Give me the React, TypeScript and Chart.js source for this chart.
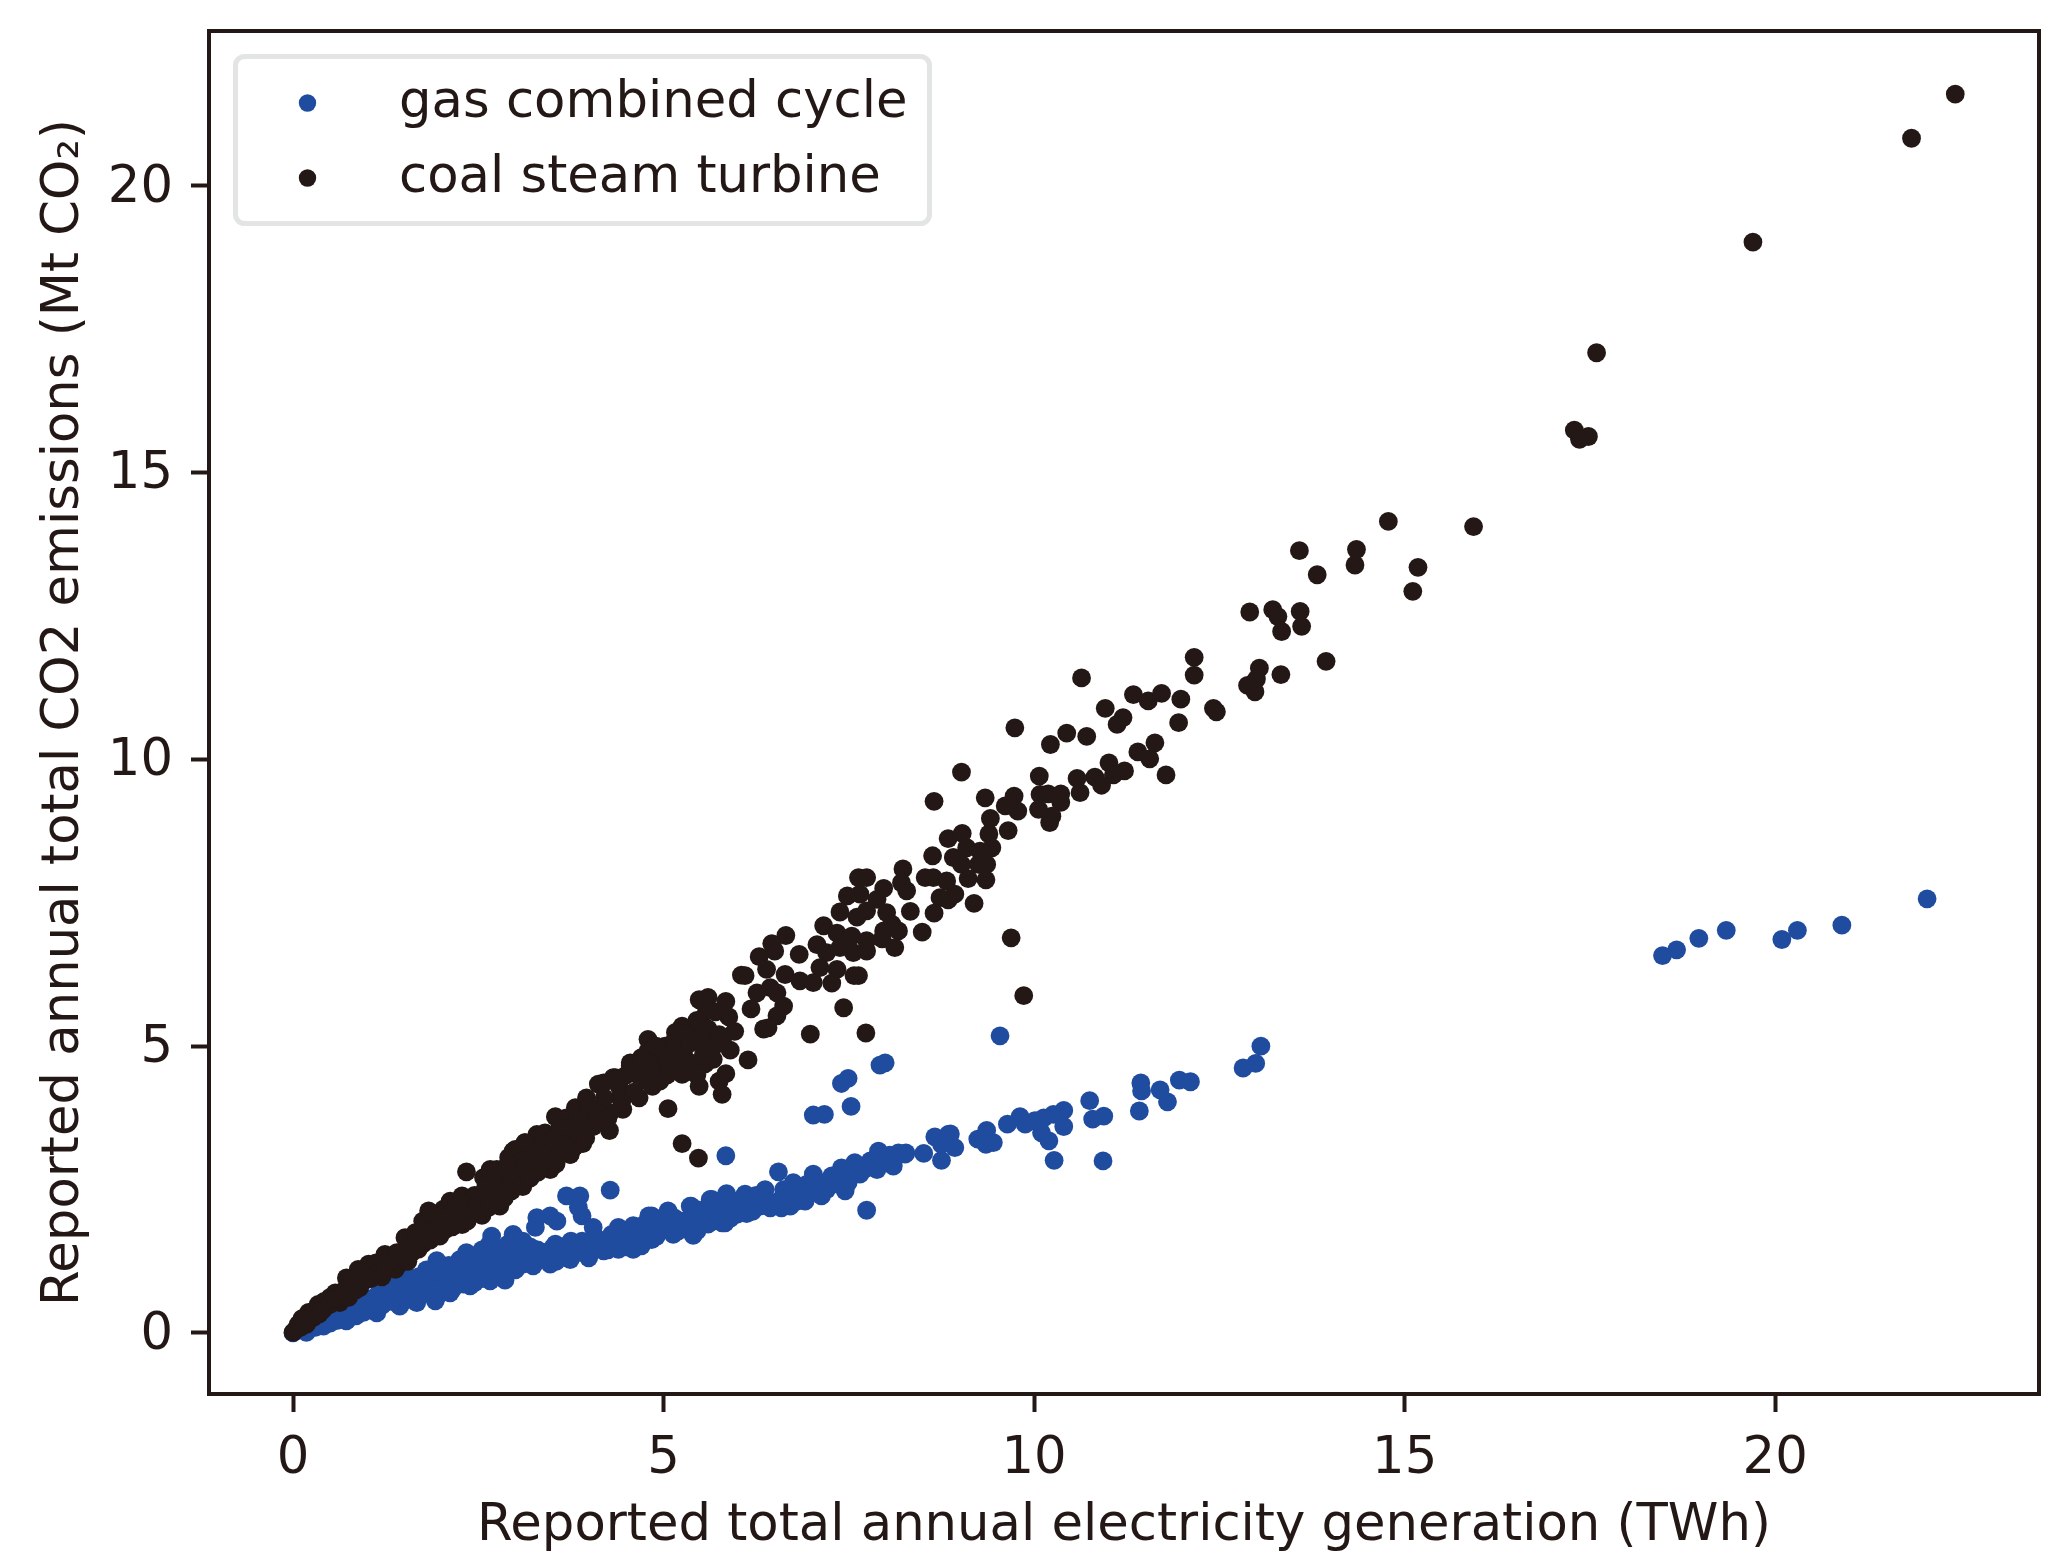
import React, { useEffect, useRef } from "react";
import { Chart, registerables } from "chart.js";

Chart.register(...registerables);

// [TWh, Mt CO2]
const coalPlants: [number, number][] = [
  [22.43,21.6],[21.84,20.83],[19.7,19.02],[17.59,17.09],[17.29,15.74],[17.36,15.58],[17.48,15.63],
  [14.78,14.15],[15.93,14.06],[13.58,13.64],[14.35,13.66],[14.33,13.39],[13.82,13.22],[15.18,13.35],[15.11,12.93],
  [12.91,12.57],[13.22,12.61],[13.29,12.49],[13.34,12.23],[13.59,12.58],[13.61,12.32],[13.94,11.71],[12.16,11.78],
  [12.16,11.47],[13.04,11.59],[13.33,11.48],[12.88,11.29],[13.0,11.4],[12.98,11.18],[10.64,11.42],[11.34,11.13],
  [11.54,11.02],[11.72,11.15],[11.98,11.05],[10.96,10.89],[11.2,10.73],[11.12,10.61],[11.95,10.64],[12.42,10.89],
  [12.46,10.83],[9.74,10.55],[10.44,10.46],[10.71,10.4],[10.22,10.26],[11.63,10.29],[11.4,10.13],[11.56,10.01],
  [11.01,9.94],[11.22,9.8],[11.07,9.73],[10.82,9.69],[10.91,9.55],[11.78,9.73],[10.07,9.71],[10.58,9.67],
  [10.62,9.42],[9.73,9.36],[9.78,9.1],[9.61,9.19],[10.08,9.39],[10.19,9.4],[10.36,9.4],[10.36,9.25],
  [10.06,9.13],[10.24,9.01],[10.21,8.9],[9.65,8.76],
  [9.02,9.78],[8.65,9.27],[9.34,9.33],[9.41,8.97],[9.39,8.7],[8.84,8.62],[9.03,8.71],[9.09,8.46],[9.43,8.46],
  [9.27,8.4],[8.63,8.32],[8.91,8.29],[9.36,8.17],[9.25,8.17],[8.23,8.09],[9.02,8.17],[9.35,7.9],[9.11,7.92],
  [8.21,7.85],[8.53,7.94],[8.64,7.94],[8.82,7.88],[8.28,7.71],[7.63,7.94],[7.74,7.94],[7.97,7.75],[7.48,7.62],
  [7.65,7.65],[7.88,7.56],[8.73,7.59],[8.84,7.55],[8.93,7.65],[9.19,7.49],[7.38,7.34],[7.74,7.36],[7.61,7.25],
  [8.01,7.33],[8.33,7.35],[8.65,7.32],[7.16,7.1],[8.08,7.13],[8.17,7.01],[7.97,7.01],[8.49,6.99],[6.65,6.93],
  [6.46,6.79],[7.34,6.97],[7.54,6.92],[7.07,6.77],[6.5,6.66],[8.12,6.72],[7.74,6.84],[7.56,6.63],[7.38,6.72],
  [7.2,6.63],[7.74,6.66],[7.95,6.87],[6.29,6.56],[6.83,6.6],[6.39,6.34],[7.34,6.34],[6.05,6.24],[6.1,6.23],
  [6.64,6.25],[6.84,6.14],[7.02,6.11],[7.27,6.1],[7.11,6.37],[7.57,6.23],[7.63,6.23],[7.43,5.67],[9.69,6.89],
  [9.86,5.88],[7.73,5.23],[6.98,5.21],[6.44,6.02],[6.26,5.93],[6.53,5.93],[6.62,5.7],[6.18,5.65],[6.53,5.53],
  [6.35,5.3],[6.41,5.32],[5.48,5.81],[5.6,5.85],[5.84,5.78],[5.58,5.62],[5.88,5.51],[5.54,5.35],[5.25,5.35],
  [5.16,5.24],[5.49,5.27],[5.96,5.26],[4.79,5.12],[5.02,5.0],[5.22,5.09],[5.65,5.09],[4.79,4.92],[5.9,4.93],
  [4.55,4.71],[5.27,4.86],[5.54,4.86],[5.67,4.77],[4.95,4.74],[4.68,4.63],[6.14,4.76],[5.56,4.69],[5.25,4.51],
  [5.84,4.52],[4.95,4.42],[4.35,4.45],[5.75,4.39],[5.48,4.3],[5.79,4.16],[4.67,4.1],[4.41,4.1],[4.19,4.36],
  [5.06,3.91],[4.27,3.53],[5.25,3.3],[5.47,3.05],[4.44,4.06],[4.28,3.84],[3.91,3.3],[3.54,3.77],[2.34,2.81],
  [3.81,3.93],[3.96,4.1],[4.12,4.34],[4.32,4.45],[4.55,4.66],[4.95,4.39],[4.64,4.51],[4.82,4.69],[5.0,4.92],
  [5.02,4.69],[4.01,3.81],[4.1,3.75],[3.92,3.58],[3.69,3.75],[3.6,3.58],[3.4,3.49],[3.29,3.46],[3.13,3.32],
  [3.0,3.2],[2.91,3.06],[3.74,3.11],[3.47,2.85],[3.33,3.17],[3.6,3.23],[3.42,3.06],[3.15,3.11],[3.02,2.88],
  [3.24,2.88],[2.66,2.85],[2.84,2.77],[2.57,2.71],
  [0.0,0.01],[0.07,0.15],[0.21,0.36],[0.34,0.5],[0.57,0.7],[0.72,0.96],[0.88,1.11],[1.02,1.2],[1.24,1.37],
  [1.51,1.66],[1.83,2.13],[2.03,2.16],[2.12,2.3],[2.28,2.39],[2.66,2.82],[2.97,3.17],[3.13,3.32],[3.38,3.46],
  [0.18,0.15],[0.27,0.27],[0.45,0.47],[0.63,0.53],[0.9,0.79],[1.38,1.11],[1.69,1.46],[1.98,1.69],[2.28,1.89],
  [2.79,2.21],[2.95,2.48],[3.33,2.85],[3.47,2.97],[3.74,3.12],[0.14,0.21],[0.5,0.62],[0.81,0.85],[1.08,1.08],
  [1.31,1.31],[1.53,1.43],[1.71,1.72],[1.94,1.89],[2.16,2.07],[2.39,2.3],[2.61,2.42],[2.7,2.65],[2.88,2.71],
  [3.06,3.0],[3.29,3.17],[3.56,3.35],[3.69,3.52],[3.56,3.12],[3.42,3.29],[3.24,3.0],
];

// the solid stretch of the coal band near the origin
const coalDenseBand: [number, number][] = [
  [0.03,0.05],[0.1,0.1],[0.12,0.25],[0.2,0.2],[0.25,0.3],[0.3,0.4],[0.35,0.33],[0.42,0.55],[0.4,0.4],[0.5,0.5],[0.55,0.6],
  [0.65,0.65],[0.7,0.75],[0.75,0.62],[0.8,0.95],[0.85,0.75],[0.95,1.05],[0.95,0.9],
  [1.05,0.95],[1.12,1.22],[1.15,1.05],[1.2,0.98],[1.25,1.18],[1.35,1.25],[1.4,1.4],[1.45,1.22],[1.5,1.35],[1.55,1.25],
  [1.6,1.55],[1.6,1.4],[1.65,1.75],[1.7,1.6],[1.75,1.95],[1.75,1.55],[1.8,1.75],[1.85,1.62],[1.9,2.05],[1.9,1.75],[1.95,1.7],
  [2.0,1.95],[2.05,1.8],[2.1,2.05],[2.15,1.85],[2.2,2.2],[2.25,2.0],[2.35,2.15],[2.35,1.95],[2.45,2.4],[2.45,2.1],[2.5,2.25],
  [2.55,2.05],[2.6,2.55],[2.65,2.2],[2.75,2.4],[2.75,2.85],[2.8,2.55],[2.85,2.35],[2.9,2.95],[2.95,2.6],
  [3.05,2.75],[3.1,2.55],[3.15,2.95],[3.2,2.7],[3.3,2.8],[3.45,3.1],[3.5,3.35],[3.55,2.95],[3.65,3.3],[3.7,3.6],[3.8,3.25],
  [3.85,3.75],[3.85,3.5],[3.95,3.4],[4.0,3.95],[4.05,3.6],[4.1,3.9],
  [4.2,4.1],[4.25,3.75],[4.4,4.3],[4.45,3.9],[4.5,4.5],[4.6,4.2],[4.7,4.8],[4.75,4.4],[4.85,4.55],[4.9,5.0],[4.85,4.3],
  [5.05,4.5],[5.1,4.85],[5.15,5.1],[5.2,4.7],[5.3,5.2],[5.35,5.05],[5.4,4.7],[5.45,5.45],[5.5,5.1],[5.6,5.3],[5.65,4.95],
  [5.7,5.6],[5.75,5.2],[5.8,5.05],[5.3,4.55],[5.45,4.5],
];

const gasPlants: [number, number][] = [
  [22.05,7.57],[20.9,7.11],[20.3,7.02],[20.09,6.86],[19.34,7.02],[18.97,6.88],[18.67,6.68],[18.48,6.58],
  [9.54,5.18],[13.06,5.0],[12.99,4.7],[12.82,4.62],[11.44,4.36],[11.45,4.22],[11.7,4.24],[11.8,4.03],[11.96,4.41],
  [12.11,4.38],[11.42,3.87],[10.75,4.05],[10.94,3.78],[10.79,3.73],[10.93,3.0],[10.27,3.01],[10.4,3.88],[10.26,3.81],
  [10.13,3.75],[10.4,3.6],[10.1,3.49],[10.2,3.35],[10.01,3.7],[9.81,3.77],[9.64,3.64],[9.88,3.64],[9.36,3.53],
  [9.24,3.38],[9.35,3.29],[9.45,3.32],[8.87,3.47],[8.66,3.42],[8.93,3.23],[8.75,3.01],[8.75,3.29],[8.51,3.13],[8.26,3.12],
  [7.99,4.71],[7.92,4.67],[7.49,4.44],[7.4,4.35],[7.53,3.95],[7.17,3.81],[7.02,3.8],[5.84,3.09],[7.74,2.14],[6.55,2.81],
  [8.84,3.46],[8.27,3.14],[8.17,3.14],[8.1,2.91],[7.9,3.17],[7.79,3.0],[7.58,2.97],[7.88,2.85],[7.4,2.88],[7.45,2.48],
  [7.49,2.62],[7.27,2.74],[7.02,2.77],[7.13,2.39],[6.91,2.3],[6.93,2.59],[6.75,2.62],[6.59,2.18],[6.71,2.21],[6.62,2.5],
  [6.37,2.5],[6.44,2.18],[6.3,2.21],[6.1,2.42],[6.12,2.08],[5.99,2.07],[5.85,2.43],[5.65,2.33],[5.83,1.92],[5.67,1.95],
  [5.36,2.21],[5.4,1.7],[5.13,1.72],[5.06,2.13],[5.54,2.01],[5.27,1.95],[4.86,1.69],[4.84,2.04],[5.0,1.84],[5.99,2.3],
  [6.21,2.3],[7.16,2.62],[7.65,2.77],
  [3.69,2.39],[3.87,2.39],[4.28,2.49],[3.85,2.19],[3.9,2.04],[3.29,2.01],[3.47,2.04],[3.56,1.95],[4.05,1.84],[3.27,1.84],
  [5.63,2.33],[5.37,2.21],[5.07,2.1],[4.8,2.04],[4.39,1.84],[4.59,1.87],[3.54,1.55],[2.97,1.72],[2.68,1.69],[2.34,1.4],
  [1.94,1.26],[1.58,0.96],[1.17,0.73],[0.77,0.44],[5.79,1.92],[4.84,1.63],[4.59,1.46],[4.39,1.46],[4.19,1.43],[3.99,1.31],
  [3.74,1.28],[3.47,1.2],[3.24,1.17],[2.86,0.92],[2.66,0.91],[2.39,0.82],[1.92,0.56],[2.12,0.7],[1.67,0.53],[1.44,0.47],
  [1.13,0.35],[0.9,0.35],[0.72,0.21],[0.41,0.12],[0.18,0.01],[0.0,0.0],[0.3,0.1],[0.5,0.17],
  [1.2,0.85],[1.4,0.9],[1.6,0.75],[1.8,0.85],[1.8,1.1],[2.0,0.95],[2.2,1.1],[2.2,0.85],[2.4,1.15],[2.5,1.0],[2.6,1.3],
  [2.8,1.2],[2.8,1.45],[3.0,1.1],[3.0,1.35],[3.2,1.5],[3.4,1.4],[3.6,1.4],[3.8,1.5],[4.0,1.6],[4.2,1.55],[4.4,1.65],
  [4.6,1.7],[4.8,1.8],[5.0,1.9],[5.3,1.95],[5.5,2.05],[5.7,2.1],[1.0,0.6],[0.8,0.35],[0.6,0.3],[0.5,0.25],[1.0,0.4],
  [1.3,0.55],[1.5,0.6],[1.7,0.7],[2.0,0.7],[2.3,0.95],[2.6,1.05],
];

// the solid stretch of the gas band
const gasDenseBand: [number, number][] = [
  [0.1,0.06],[0.2,0.1],[0.25,0.15],[0.35,0.18],[0.4,0.22],[0.45,0.2],[0.55,0.28],[0.6,0.22],[0.65,0.33],[0.7,0.3],[0.75,0.38],
  [0.85,0.3],[0.85,0.45],[0.95,0.48],[0.95,0.36],
  [1.05,0.52],[1.1,0.42],[1.1,0.62],[1.2,0.48],[1.2,0.66],[1.25,0.56],[1.3,0.74],[1.35,0.62],[1.4,0.52],[1.4,0.78],[1.45,0.68],
  [1.5,0.84],[1.55,0.58],[1.55,0.72],[1.6,0.9],[1.65,0.64],[1.65,0.8],[1.7,0.98],[1.75,0.74],[1.75,0.9],[1.85,0.68],[1.85,0.8],
  [1.85,1.0],[1.9,0.92],[1.95,1.12],[1.95,0.76],
  [2.05,0.84],[2.05,1.02],[2.1,1.18],[2.15,0.76],[2.15,0.95],[2.25,1.05],[2.25,1.28],[2.3,0.85],[2.35,1.18],[2.45,0.88],[2.45,1.3],
  [2.5,1.12],[2.55,0.95],[2.55,1.45],[2.6,1.2],[2.65,1.55],[2.7,1.0],[2.7,1.38],[2.75,1.12],[2.75,1.28],[2.85,1.05],[2.9,1.32],
  [2.9,1.55],[2.95,1.22],[3.0,1.45],
  [3.1,1.2],[3.1,1.6],[3.15,1.35],[3.25,1.25],[3.3,1.45],[3.45,1.3],[3.5,1.48],[3.55,1.25],[3.65,1.5],[3.7,1.38],[3.85,1.4],
  [3.9,1.6],[3.95,1.45],[3.75,1.6],
  [4.1,1.48],[4.1,1.65],[4.25,1.45],[4.3,1.72],[4.5,1.5],[4.5,1.75],[4.65,1.6],[4.7,1.52],[4.75,1.9],[4.9,1.68],[4.95,1.95],
  [5.1,1.8],[5.15,2.0],[5.2,1.78],[5.35,1.85],[5.45,1.78],[5.45,2.15],[5.6,1.9],[5.6,2.2],[5.75,2.05],[5.75,2.3],[5.9,2.0],[5.9,2.25],
  [6.05,2.15],[6.2,2.12],[6.25,2.4],[6.4,2.3],[6.55,2.3],[6.65,2.35],[6.8,2.3],[6.85,2.5],[7.05,2.5],[7.2,2.5],[7.3,2.6],
  [7.55,2.75],[7.7,2.85],[7.8,2.95],[8.0,3.0],[8.05,3.1],
];

const seriesNames = ["gas combined cycle", "coal steam turbine"];
const seriesColors = ["#204c9f", "#231815"];
const xAxisTitle = "Reported total annual electricity generation (TWh)";
const yAxisTitle = "Reported annual total CO2 emissions (Mt CO₂)";

const FONT = "'DejaVu Sans'";
const INK = "#231815";
const DOT = 9.4;
const TEXT_SIZE = 51.25;

const nudgeYLabels = {
  id: "nudgeYLabels",
  beforeDraw(chart: any) {
    chart.scales.y.getLabelItems().forEach((item: any) => {
      if (!item.nudged) {
        item.options.translation[1] += 2.5;
        item.nudged = true;
      }
    });
  },
};

const frameAndLegend = {
  id: "frameAndLegend",
  afterDraw(chart: any) {
    const { ctx, chartArea: a } = chart;
    ctx.save();
    ctx.strokeStyle = INK;
    ctx.lineWidth = 4;
    ctx.strokeRect(a.left, a.top, a.right - a.left, a.bottom - a.top);
    ctx.lineWidth = 5;
    ctx.strokeStyle = "#e3e4e4";
    ctx.fillStyle = "#ffffff";
    ctx.beginPath();
    ctx.roundRect(235.5, 56.5, 694, 167, 9);
    ctx.fill();
    ctx.stroke();
    ctx.font = `${TEXT_SIZE}px ${FONT}`;
    ctx.textBaseline = "alphabetic";
    ctx.textAlign = "left";
    seriesNames.forEach((name, i) => {
      const y = 103 + i * 75;
      ctx.fillStyle = seriesColors[i];
      ctx.beginPath();
      ctx.arc(307.5, y, 8.7, 0, Math.PI * 2);
      ctx.fill();
      ctx.fillStyle = INK;
      ctx.fillText(name, 399, y + 14);
    });
    ctx.restore();
  },
};

export default function App() {
  const ref = useRef<HTMLCanvasElement>(null);
  useEffect(() => {
    document.body.style.margin = "0";
    const tickFont = { family: FONT, size: TEXT_SIZE };
    const grid = {
      display: true,
      drawOnChartArea: false,
      drawTicks: true,
      tickLength: 18,
      tickWidth: 4,
      tickColor: INK,
      color: INK,
    };
    const noPad = (s: any) => {
      s.paddingTop = 0;
      s.paddingBottom = 0;
      s.paddingLeft = 0;
      s.paddingRight = 0;
    };
    const chart = new Chart(ref.current as HTMLCanvasElement, {
      type: "scatter",
      data: {
        datasets: [
          {
            label: seriesNames[0],
            data: [...gasPlants, ...gasDenseBand].map(([x, y]) => ({ x, y })),
            backgroundColor: seriesColors[0],
            pointRadius: DOT,
            pointBorderWidth: 0,
            order: 2,
          },
          {
            label: seriesNames[1],
            data: [...coalPlants, ...coalDenseBand].map(([x, y]) => ({ x, y })),
            backgroundColor: seriesColors[1],
            pointRadius: DOT,
            pointBorderWidth: 0,
            order: 1,
          },
        ],
      },
      options: {
        responsive: false,
        animation: false,
        devicePixelRatio: 1,
        layout: { padding: { top: 31, right: 20, left: 0, bottom: 0 } },
        plugins: { legend: { display: false }, tooltip: { enabled: false } },
        scales: {
          x: {
            type: "linear",
            min: -1.134,
            max: 23.56,
            afterFit: (s: any) => { s.height = 174; noPad(s); },
            grid,
            border: { display: false },
            ticks: {
              stepSize: 5,
              includeBounds: false,
              maxRotation: 0,
              padding: 17,
              color: INK,
              font: tickFont,
            },
            title: { display: true, text: xAxisTitle, color: INK, font: tickFont, padding: { top: 0, bottom: 11 } },
          },
          y: {
            type: "linear",
            min: -1.064,
            max: 22.7,
            afterFit: (s: any) => { s.width = 209; noPad(s); },
            grid,
            border: { display: false },
            ticks: {
              stepSize: 5,
              includeBounds: false,
              padding: 18,
              color: INK,
              font: tickFont,
            },
            title: { display: true, text: yAxisTitle, color: INK, font: tickFont, padding: { top: 34, bottom: 0 } },
          },
        },
      },
      plugins: [nudgeYLabels, frameAndLegend],
    } as any);
    return () => chart.destroy();
  }, []);
  return <canvas ref={ref} width={2059} height={1568} style={{ display: "block" }} />;
}
